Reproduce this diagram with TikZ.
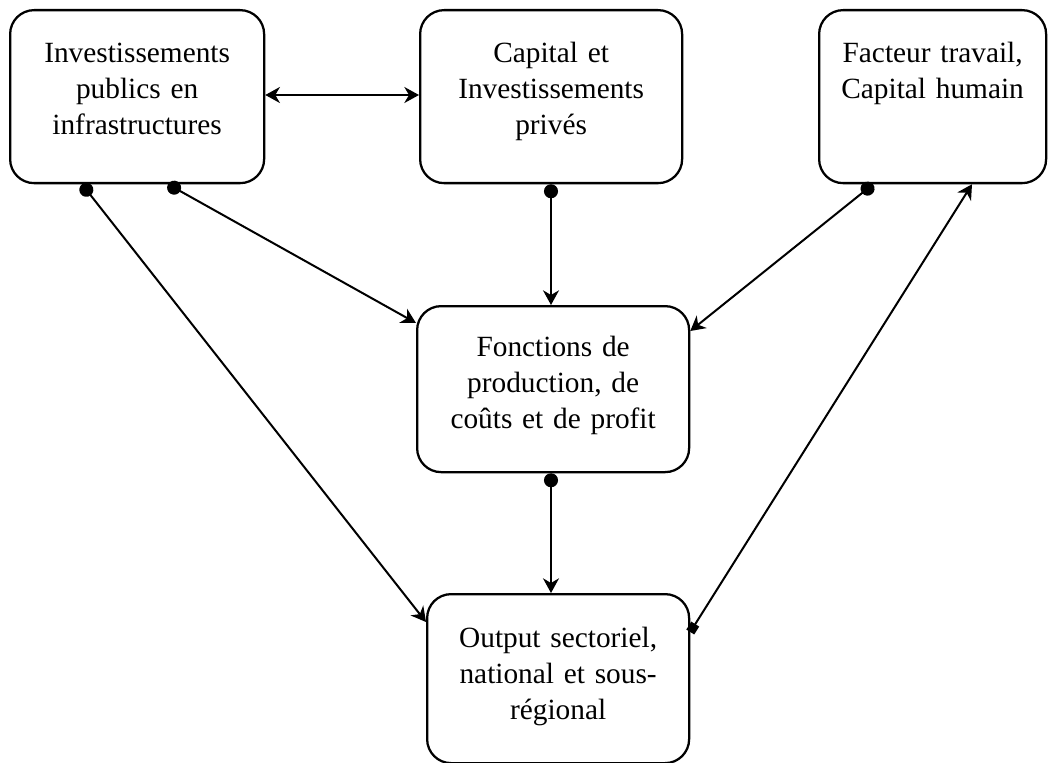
\documentclass[tikz,border=0pt]{standalone}
\usepackage{fontspec}
\setmainfont{Liberation Serif}
\usetikzlibrary{arrows.meta,calc}
\newdimen\px
\px=0.75pt
\begin{document}
\begin{tikzpicture}[x=0.75pt,y=-0.75pt,
  box/.style={draw, line width=1.7pt, rounded corners=18pt, inner sep=0pt,
    align=center, anchor=north west, font=\fontsize{22}{27}\selectfont},
  conn/.style={line width=1.5pt},
  dotstart/.style={{Circle[length=10.5pt]}-{Stealth[length=11pt,width=12pt,inset=3.5pt]}},
  sqstart/.style={{Square[length=7pt,width=7pt]}-{Stealth[length=11pt,width=12pt,inset=3.5pt]}},
  both/.style={{Stealth[length=11pt,width=12pt,inset=3.5pt]}-{Stealth[length=11pt,width=12pt,inset=3.5pt]}}]
\useasboundingbox (0,0) rectangle (1053,763);
\node[box, minimum width=254\px, text width=254\px, text height=52\px, text depth=121\px] (b1) at (9,9)
  {Investissements\\publics en\\infrastructures};
\node[box, minimum width=262\px, text width=262\px, text height=52\px, text depth=121\px] (b2) at (419,9)
  {Capital et\\Investissements\\privés};
\node[box, minimum width=227\px, text width=227\px, text height=52\px, text depth=121\px] (b3) at (818,9)
  {Facteur travail,\\Capital humain};
\node[box, minimum width=272\px, text width=272\px, text height=50\px, text depth=116\px] (b4) at (416,305)
  {Fonctions de\\production, de\\coûts et de profit};
\node[box, minimum width=262\px, text width=262\px, text height=53\px, text depth=116\px] (b5) at (426,593)
  {Output sectoriel,\\national et sous-\\régional};
% connectors
\draw[conn,both] ($(b1.north east)+(0,86)$) -- ($(b2.north west)+(0,86)$);
\draw[conn,dotstart] ($(b1.south west)+(73,0)$) -- ($(b5.north west)+(0,29)$);
\draw[conn,dotstart] ($(b1.south west)+(159,0)$) -- ($(b4.north west)+(0,18)$);
\draw[conn,dotstart] ($(b2.south west)+(132,0)$) -- ($(b4.north west)+(135,0)$);
\draw[conn,dotstart] ($(b3.south west)+(55,0)$) -- ($(b4.north east)+(0,26)$);
\draw[conn,dotstart] ($(b4.south west)+(135,0)$) -- ($(b5.north west)+(125,0)$);
\draw[conn,sqstart] ($(b5.north east)+(0,39)$) -- ($(b3.south west)+(154,0)$);
\end{tikzpicture}
\end{document}
